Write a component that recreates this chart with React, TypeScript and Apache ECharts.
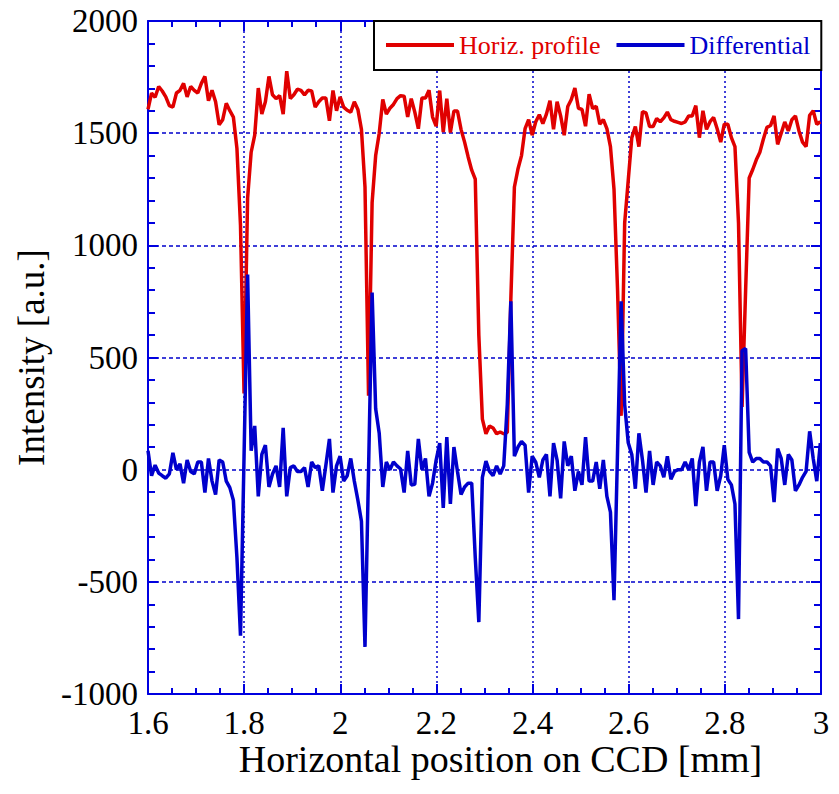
import React, { useEffect, useRef } from "react";
import * as echarts from "echarts";

// CCD sampling grid: first pixel position and pixel pitch [mm]
const X_START = 1.6;
const X_STEP = 0.0074;

// Horizontal intensity profile [a.u.]
const profile = [
  1606, 1679, 1660, 1708, 1688, 1662, 1623, 1616, 1679, 1691,
  1722, 1662, 1708, 1691, 1679, 1722, 1753, 1645, 1691, 1640,
  1538, 1560, 1633, 1600, 1572, 1432, 1090, 340, 1210, 1415,
  1491, 1701, 1585, 1640, 1753, 1671, 1654, 1667, 1585, 1776,
  1654, 1671, 1696, 1691, 1671, 1691, 1688, 1616, 1640, 1657,
  1657, 1555, 1690, 1600, 1662, 1616, 1602, 1594, 1640, 1606,
  1517, 1261, 330, 1190, 1400, 1500, 1650, 1585, 1611, 1628,
  1654, 1667, 1665, 1572, 1654, 1594, 1520, 1657, 1657, 1691,
  1572, 1531, 1690, 1505, 1654, 1503, 1599, 1599, 1517, 1460,
  1394, 1335, 1295, 600, 225, 160, 195, 186, 160, 168,
  160, 166, 760, 1260, 1340, 1400, 1520, 1560, 1491, 1551,
  1582, 1543, 1585, 1645, 1517, 1640, 1577, 1491, 1619, 1650,
  1701, 1611, 1606, 1531, 1674, 1610, 1620, 1540, 1560, 1520,
  1440, 1250, 800, 240, 1100, 1290, 1480, 1530, 1440, 1596,
  1590, 1530, 1530, 1565, 1551, 1568, 1594, 1560, 1553, 1548,
  1543, 1550, 1577, 1577, 1623, 1480, 1600, 1517, 1551, 1570,
  1520, 1460, 1540, 1540, 1480, 1440, 1100, 280, 800, 1300,
  1338, 1381, 1415, 1474, 1526, 1534, 1577, 1450, 1500, 1550,
  1510, 1560, 1577, 1510, 1460, 1440, 1580, 1600, 1540, 1551,
];

// Differential of the profile [a.u.]
const differential = [
  84, -27, 20, -15, -27, -38, -19, 75, 0, 26,
  -60, 43, -8, -19, 34, 34, -102, 50, -51, -111,
  43, 34, -51, -80, -136, -392, -740, 60, 870, 84,
  195, -119, 68, 109, -77, -19, 17, -77, 186, -119,
  9, 17, -8, -8, 9, -77, 34, 9, 17, -94,
  20, 137, -102, 17, 60, -51, -27, 50, -51, -136,
  -230, -790, 0, 790, 271, 162, -77, 34, 0, 34,
  17, 3, -102, 84, -68, -65, 137, 0, 50, -119,
  -60, 43, 118, -170, 145, -153, 101, -8, -111, -77,
  -60, -60, -392, -680, -34, 38, -8, -27, 17, -19,
  17, 290, 751, 60, 101, 126, 109, -102, 60, 34,
  -34, 43, 68, -119, 118, 43, -128, 126, 17, 60,
  -94, -8, -68, 145, -51, -51, 34, -85, 43, -119,
  -189, -582, 85, 751, 290, 120, 68, -85, 162, 43,
  -102, 84, -68, 34, 17, -34, 60, -43, -8, 0,
  0, 34, 0, 50, -162, 34, 101, -94, 34, 34,
  -94, -27, 109, -43, -68, -153, -666, 530, 540, 77,
  34, 50, 50, 34, 34, 17, -145, 94, 50, -68,
  68, 43, -94, -68, -34, -8, 171, 50, -51, 118,
];

const SERIES_NAMES = ["Horiz. profile", "Differential"];
const SERIES_COLORS = ["#e00000", "#0000cc"];

const X_MIN = 1.6;
const X_MAX = 3.0;
const X_INTERVAL = 0.2;
const Y_MIN = -1000;
const Y_MAX = 2000;
const Y_INTERVAL = 500;

const X_TITLE = "Horizontal position on CCD [mm]";
const Y_TITLE = "Intensity [a.u.]";

const FONT = "'Liberation Serif', 'Times New Roman', serif";
const AXIS_BLUE = "#0000e0";
const GRID_BLUE = "#0000cc";

const positions = profile.map((_, i) => +(X_START + i * X_STEP).toFixed(4));

const fmtX = (v: number) => String(parseFloat(v.toFixed(2)));
const fmtY = (v: number) => String(Math.round(v));

function axisCommon(show: boolean) {
  return {
    axisLine: { show: true, onZero: false, lineStyle: { color: AXIS_BLUE, width: 2 } },
    axisTick: { show: true, inside: true, length: 10, lineStyle: { color: AXIS_BLUE, width: 2 } },
    axisLabel: { show },
  };
}

export default function App() {
  const ref = useRef<HTMLDivElement>(null);

  useEffect(() => {
    document.body.style.margin = "0";
    if (!ref.current) return;
    const chart = echarts.init(ref.current, null, { renderer: "svg" });

    const option = {
      animation: false,
      backgroundColor: "#ffffff",
      grid: { left: 148, top: 21, width: 673, height: 673, containLabel: false },
      legend: {
        left: 374,
        top: 21,
        padding: [11, 11, 12, 12],
        backgroundColor: "#ffffff",
        borderColor: "#000000",
        borderWidth: 2,
        borderRadius: 0,
        icon: "rect",
        itemWidth: 68,
        itemHeight: 4,
        itemGap: 16,
        textStyle: { fontFamily: FONT, fontSize: 26 },
        data: SERIES_NAMES.map((name, k) => ({
          name,
          textStyle: { color: SERIES_COLORS[k] },
        })),
        z: 10,
      },
      xAxis: [
        {
          type: "value",
          position: "bottom",
          min: X_MIN,
          max: X_MAX,
          interval: X_INTERVAL,
          ...axisCommon(true),
          minorTick: { show: true, splitNumber: 4, length: 6, lineStyle: { color: AXIS_BLUE, width: 2 } },
          axisLabel: {
            show: true,
            color: "#000",
            fontFamily: FONT,
            fontSize: 33,
            margin: 12,
            formatter: fmtX,
          },
          splitLine: { show: true, lineStyle: { color: GRID_BLUE, width: 1.5, type: [2, 3] } },
          name: X_TITLE,
          nameLocation: "middle",
          nameGap: 46,
          nameMoveOverlap: false,
          nameTextStyle: { color: "#000", fontFamily: FONT, fontSize: 38, padding: [0, 0, 0, 32] },
        },
        {
          type: "value",
          position: "top",
          min: X_MIN,
          max: X_MAX,
          interval: X_INTERVAL,
          ...axisCommon(false),
          minorTick: { show: true, splitNumber: 4, length: 6, lineStyle: { color: AXIS_BLUE, width: 2 } },
          splitLine: { show: false },
        },
      ],
      yAxis: [
        {
          type: "value",
          position: "left",
          min: Y_MIN,
          max: Y_MAX,
          interval: Y_INTERVAL,
          ...axisCommon(true),
          minorTick: { show: true, splitNumber: 5, length: 7, lineStyle: { color: AXIS_BLUE, width: 2 } },
          axisLabel: {
            show: true,
            color: "#000",
            fontFamily: FONT,
            fontSize: 33,
            margin: 10,
            formatter: fmtY,
          },
          splitLine: { show: true, lineStyle: { color: GRID_BLUE, width: 1.5, type: [4, 3] } },
          name: Y_TITLE,
          nameLocation: "middle",
          nameGap: 98,
          nameTextStyle: { color: "#000", fontFamily: FONT, fontSize: 37 },
        },
        {
          type: "value",
          position: "right",
          min: Y_MIN,
          max: Y_MAX,
          interval: Y_INTERVAL,
          ...axisCommon(false),
          minorTick: { show: true, splitNumber: 5, length: 7, lineStyle: { color: AXIS_BLUE, width: 2 } },
          splitLine: { show: false },
        },
      ],
      series: [
        {
          name: SERIES_NAMES[0],
          type: "line",
          xAxisIndex: 0,
          yAxisIndex: 0,
          showSymbol: false,
          symbol: "none",
          lineStyle: { color: SERIES_COLORS[0], width: 3.5 },
          itemStyle: { color: SERIES_COLORS[0] },
          data: positions.map((x, i) => [x, profile[i]]),
          z: 2,
        },
        {
          name: SERIES_NAMES[1],
          type: "line",
          xAxisIndex: 0,
          yAxisIndex: 0,
          showSymbol: false,
          symbol: "none",
          lineStyle: { color: SERIES_COLORS[1], width: 3.5 },
          itemStyle: { color: SERIES_COLORS[1] },
          data: positions.map((x, i) => [x, differential[i]]),
          z: 3,
        },
      ],
    };

    chart.setOption(option as any);
    return () => chart.dispose();
  }, []);

  return <div ref={ref} style={{ width: 839, height: 794 }} />;
}
